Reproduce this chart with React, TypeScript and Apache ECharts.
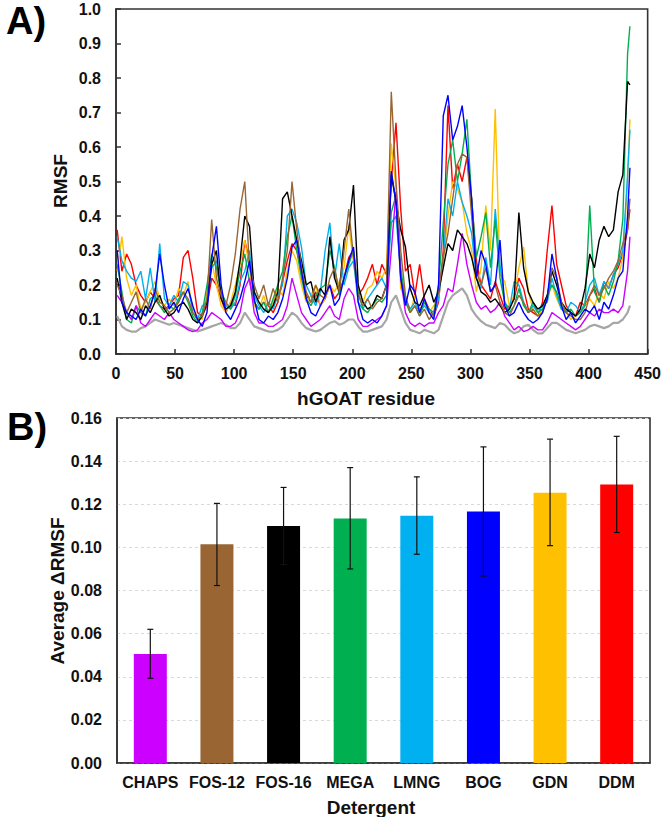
import React, { useEffect, useRef } from 'react';
import * as echarts from 'echarts';

// Panel A: residue positions (sampled) and RMSF values per detergent
const RESIDUES = [1,5,9,13,17,21,25,29,33,37,41,45,49,53,57,61,65,69,73,77,81,85,89,93,97,101,105,109,113,117,121,125,129,133,137,141,145,149,153,157,161,165,169,173,177,181,185,189,193,197,201,205,209,213,217,221,225,229,233,237,241,245,249,253,257,261,265,269,273,277,281,285,289,293,297,301,305,309,313,317,321,325,329,333,337,341,345,349,353,357,361,365,369,373,377,381,385,389,393,397,401,405,409,413,417,421,425,429,433,435];

const RMSF_REF = [
  0.11, 0.08, 0.07, 0.065, 0.065, 0.075, 0.08, 0.09, 0.10, 0.095,
  0.09, 0.085, 0.09, 0.085, 0.08, 0.075, 0.07, 0.065, 0.07, 0.075,
  0.08, 0.085, 0.09, 0.085, 0.075, 0.075, 0.09, 0.12, 0.10, 0.08,
  0.075, 0.07, 0.065, 0.065, 0.07, 0.08, 0.10, 0.12, 0.11, 0.09,
  0.075, 0.07, 0.065, 0.07, 0.08, 0.09, 0.095, 0.085, 0.09, 0.10,
  0.10, 0.08, 0.065, 0.065, 0.07, 0.075, 0.08, 0.10, 0.15, 0.17,
  0.13, 0.09, 0.07, 0.065, 0.06, 0.07, 0.065, 0.06, 0.07, 0.11,
  0.15, 0.17, 0.18, 0.19, 0.17, 0.13, 0.11, 0.095, 0.085, 0.08,
  0.075, 0.09, 0.085, 0.07, 0.06, 0.065, 0.08, 0.085, 0.07, 0.06,
  0.06, 0.075, 0.09, 0.09, 0.08, 0.07, 0.065, 0.06, 0.065, 0.07,
  0.08, 0.085, 0.08, 0.075, 0.08, 0.09, 0.09, 0.10, 0.12, 0.14,
];
const RMSF_CHAPS = [
  0.17, 0.15, 0.12, 0.10, 0.14, 0.09, 0.08, 0.10, 0.12, 0.11,
  0.10, 0.12, 0.10, 0.09, 0.08, 0.07, 0.065, 0.07, 0.09, 0.10,
  0.12, 0.11, 0.10, 0.08, 0.08, 0.09, 0.12, 0.19, 0.22, 0.12,
  0.09, 0.09, 0.08, 0.08, 0.09, 0.10, 0.14, 0.22, 0.17, 0.12,
  0.10, 0.08, 0.09, 0.10, 0.12, 0.14, 0.11, 0.10, 0.16, 0.19,
  0.17, 0.10, 0.08, 0.08, 0.09, 0.10, 0.11, 0.14, 0.30, 0.47,
  0.22, 0.12, 0.09, 0.08, 0.09, 0.08, 0.09, 0.09, 0.12, 0.14,
  0.19, 0.18, 0.26, 0.35, 0.26, 0.20, 0.15, 0.13, 0.14, 0.12,
  0.13, 0.15, 0.11, 0.09, 0.07, 0.08, 0.065, 0.07, 0.08, 0.07,
  0.07, 0.09, 0.12, 0.11, 0.10, 0.09, 0.08, 0.07, 0.08, 0.10,
  0.12, 0.11, 0.13, 0.12, 0.12, 0.13, 0.12, 0.14, 0.24, 0.34,
];
const RMSF_FOS12 = [
  0.20, 0.17, 0.12, 0.15, 0.18, 0.12, 0.16, 0.13, 0.19, 0.15,
  0.14, 0.12, 0.13, 0.15, 0.18, 0.16, 0.12, 0.10, 0.11, 0.16,
  0.39, 0.22, 0.17, 0.14, 0.20, 0.29, 0.42, 0.50, 0.25, 0.20,
  0.16, 0.20, 0.14, 0.19, 0.15, 0.22, 0.30, 0.50, 0.36, 0.25,
  0.18, 0.15, 0.20, 0.17, 0.16, 0.22, 0.25, 0.18, 0.30, 0.42,
  0.28, 0.17, 0.14, 0.16, 0.13, 0.15, 0.16, 0.20, 0.76, 0.50,
  0.30, 0.17, 0.12, 0.14, 0.11, 0.13, 0.10, 0.12, 0.18, 0.28,
  0.35, 0.45, 0.55, 0.58, 0.57, 0.40, 0.24, 0.20, 0.25, 0.18,
  0.20, 0.15, 0.12, 0.11, 0.14, 0.17, 0.15, 0.12, 0.13, 0.11,
  0.12, 0.16, 0.25, 0.22, 0.15, 0.12, 0.11, 0.10, 0.10, 0.12,
  0.17, 0.20, 0.17, 0.19, 0.22, 0.24, 0.27, 0.32, 0.36, 0.45,
];
const RMSF_FOS16 = [
  0.22, 0.15, 0.10, 0.13, 0.12, 0.10, 0.14, 0.12, 0.15, 0.17,
  0.13, 0.11, 0.12, 0.14, 0.15, 0.13, 0.10, 0.09, 0.11, 0.15,
  0.26, 0.30, 0.16, 0.13, 0.14, 0.18, 0.27, 0.40, 0.37, 0.18,
  0.15, 0.13, 0.12, 0.14, 0.18, 0.45, 0.47, 0.40, 0.33, 0.27,
  0.20, 0.21, 0.15, 0.19, 0.17, 0.34, 0.22, 0.18, 0.33, 0.36,
  0.49, 0.20, 0.15, 0.13, 0.14, 0.17, 0.16, 0.20, 0.52, 0.44,
  0.36, 0.31, 0.19, 0.15, 0.14, 0.17, 0.20, 0.15, 0.18, 0.25,
  0.32, 0.30, 0.36, 0.34, 0.32, 0.28, 0.22, 0.18, 0.17, 0.15,
  0.16, 0.14, 0.12, 0.13, 0.16, 0.41, 0.25, 0.18, 0.15, 0.13,
  0.14, 0.17, 0.24, 0.20, 0.15, 0.13, 0.12, 0.11, 0.13, 0.19,
  0.29, 0.25, 0.33, 0.37, 0.34, 0.36, 0.47, 0.52, 0.79, 0.78,
];
const RMSF_MEGA = [
  0.26, 0.18, 0.10, 0.09, 0.14, 0.12, 0.11, 0.16, 0.17, 0.14,
  0.12, 0.14, 0.13, 0.16, 0.18, 0.15, 0.11, 0.09, 0.12, 0.20,
  0.29, 0.25, 0.18, 0.15, 0.13, 0.17, 0.24, 0.29, 0.21, 0.15,
  0.13, 0.15, 0.12, 0.16, 0.20, 0.24, 0.34, 0.40, 0.30, 0.22,
  0.16, 0.14, 0.17, 0.19, 0.20, 0.30, 0.25, 0.17, 0.22, 0.26,
  0.30, 0.18, 0.13, 0.12, 0.14, 0.16, 0.15, 0.17, 0.41, 0.46,
  0.25, 0.15, 0.12, 0.14, 0.11, 0.15, 0.13, 0.12, 0.20, 0.38,
  0.55, 0.62, 0.50, 0.58, 0.68, 0.45, 0.28, 0.34, 0.41, 0.25,
  0.39, 0.22, 0.15, 0.12, 0.14, 0.19, 0.14, 0.12, 0.15, 0.12,
  0.13, 0.17, 0.20, 0.18, 0.14, 0.12, 0.13, 0.11, 0.12, 0.14,
  0.43, 0.18, 0.15, 0.20, 0.17, 0.21, 0.27, 0.39, 0.87, 0.95,
];
const RMSF_LMNG = [
  0.34, 0.27, 0.24, 0.22, 0.21, 0.24, 0.16, 0.25, 0.15, 0.32,
  0.16, 0.14, 0.17, 0.15, 0.21, 0.20, 0.12, 0.10, 0.14, 0.15,
  0.25, 0.27, 0.17, 0.14, 0.13, 0.15, 0.21, 0.24, 0.30, 0.17,
  0.14, 0.12, 0.15, 0.13, 0.17, 0.20, 0.40, 0.42, 0.38, 0.31,
  0.20, 0.17, 0.14, 0.18, 0.30, 0.38, 0.22, 0.32, 0.20, 0.25,
  0.27, 0.15, 0.13, 0.16, 0.18, 0.20, 0.22, 0.19, 0.38, 0.40,
  0.23, 0.16, 0.13, 0.15, 0.12, 0.14, 0.12, 0.11, 0.16, 0.28,
  0.45, 0.40, 0.50, 0.44, 0.40, 0.35, 0.22, 0.19, 0.28, 0.20,
  0.42, 0.26, 0.15, 0.13, 0.21, 0.20, 0.15, 0.12, 0.14, 0.12,
  0.14, 0.15, 0.22, 0.17, 0.13, 0.12, 0.15, 0.14, 0.12, 0.15,
  0.20, 0.22, 0.17, 0.21, 0.19, 0.23, 0.26, 0.30, 0.52, 0.65,
];
const RMSF_BOG = [
  0.30, 0.15, 0.12, 0.11, 0.10, 0.13, 0.11, 0.14, 0.18, 0.29,
  0.20, 0.13, 0.15, 0.12, 0.16, 0.19, 0.14, 0.10, 0.08, 0.12,
  0.28, 0.37, 0.20, 0.12, 0.10, 0.13, 0.16, 0.21, 0.27, 0.16,
  0.10, 0.09, 0.11, 0.10, 0.12, 0.16, 0.22, 0.31, 0.33, 0.24,
  0.16, 0.12, 0.11, 0.14, 0.17, 0.20, 0.14, 0.16, 0.22, 0.27,
  0.31, 0.15, 0.10, 0.09, 0.10, 0.09, 0.11, 0.14, 0.53, 0.44,
  0.22, 0.14, 0.20, 0.18, 0.12, 0.16, 0.12, 0.10, 0.20, 0.69,
  0.75, 0.62, 0.66, 0.72, 0.60, 0.45, 0.22, 0.30, 0.26, 0.18,
  0.20, 0.33, 0.14, 0.11, 0.12, 0.15, 0.12, 0.10, 0.09, 0.10,
  0.12, 0.16, 0.29, 0.22, 0.14, 0.10, 0.12, 0.09, 0.11, 0.13,
  0.12, 0.14, 0.10, 0.15, 0.13, 0.17, 0.22, 0.24, 0.40, 0.54,
];
const RMSF_GDN = [
  0.24, 0.34, 0.22, 0.17, 0.20, 0.13, 0.15, 0.18, 0.21, 0.16,
  0.14, 0.16, 0.14, 0.19, 0.17, 0.21, 0.13, 0.11, 0.10, 0.18,
  0.27, 0.20, 0.14, 0.12, 0.15, 0.20, 0.26, 0.33, 0.25, 0.14,
  0.13, 0.17, 0.12, 0.15, 0.19, 0.17, 0.24, 0.30, 0.27, 0.20,
  0.15, 0.17, 0.20, 0.14, 0.16, 0.20, 0.18, 0.21, 0.25, 0.37,
  0.27, 0.17, 0.15, 0.19, 0.20, 0.24, 0.22, 0.25, 0.61, 0.48,
  0.19, 0.16, 0.12, 0.17, 0.13, 0.15, 0.12, 0.14, 0.16, 0.27,
  0.40, 0.50, 0.48, 0.44, 0.35, 0.30, 0.18, 0.25, 0.43, 0.30,
  0.71, 0.23, 0.21, 0.14, 0.17, 0.25, 0.31, 0.18, 0.13, 0.11,
  0.13, 0.16, 0.20, 0.16, 0.13, 0.12, 0.10, 0.11, 0.12, 0.14,
  0.16, 0.14, 0.18, 0.16, 0.21, 0.19, 0.22, 0.28, 0.50, 0.68,
];
const RMSF_DDM = [
  0.36, 0.24, 0.29, 0.26, 0.20, 0.17, 0.15, 0.18, 0.16, 0.14,
  0.13, 0.14, 0.16, 0.17, 0.28, 0.30, 0.22, 0.12, 0.11, 0.14,
  0.22, 0.20, 0.16, 0.12, 0.15, 0.14, 0.20, 0.33, 0.27, 0.15,
  0.13, 0.15, 0.14, 0.12, 0.15, 0.21, 0.27, 0.32, 0.30, 0.24,
  0.17, 0.15, 0.18, 0.14, 0.16, 0.20, 0.16, 0.18, 0.22, 0.28,
  0.30, 0.17, 0.19, 0.22, 0.26, 0.20, 0.26, 0.23, 0.50, 0.67,
  0.42, 0.24, 0.26, 0.17, 0.26, 0.16, 0.13, 0.11, 0.15, 0.30,
  0.72, 0.48, 0.55, 0.50, 0.57, 0.45, 0.27, 0.20, 0.18, 0.16,
  0.21, 0.17, 0.13, 0.14, 0.16, 0.22, 0.19, 0.13, 0.12, 0.11,
  0.15, 0.30, 0.43, 0.26, 0.20, 0.14, 0.12, 0.11, 0.15, 0.14,
  0.17, 0.19, 0.15, 0.21, 0.19, 0.23, 0.25, 0.29, 0.36, 0.42,
];

const X_TICKS = [0, 450, 50];
const Y_TICKS_A = [0, 1, 0.1];

// Panel B
const DETERGENTS = ['CHAPS', 'FOS-12', 'FOS-16', 'MEGA', 'LMNG', 'BOG', 'GDN', 'DDM'];
const AVG_DRMSF = [0.0505, 0.1014, 0.1099, 0.1134, 0.1147, 0.1166, 0.1253, 0.1292];
const ERR_LOW = [0.0393, 0.0823, 0.0920, 0.0900, 0.0968, 0.0867, 0.1008, 0.1069];
const ERR_HIGH = [0.0620, 0.1204, 0.1278, 0.1370, 0.1327, 0.1466, 0.1502, 0.1515];
const Y_TICKS_B = [0, 0.16, 0.02];

const FONT = '"Liberation Sans", Arial, Helvetica, sans-serif';
const AXIS_COLOR = '#333333';
const TEXT_COLOR = '#111111';

export default function App() {
  const ref = useRef<HTMLDivElement>(null);

  useEffect(() => {
    if (!ref.current) return;
    const chart = echarts.init(ref.current, undefined, { renderer: 'svg' });

    const lineDefs = [
      { name: 'Reference', data: RMSF_REF, color: '#a6a6a6', width: 2.2 },
      { name: 'DDM', data: RMSF_DDM, color: '#ff0000', width: 1.4 },
      { name: 'GDN', data: RMSF_GDN, color: '#ffc000', width: 1.4 },
      { name: 'LMNG', data: RMSF_LMNG, color: '#00b0f0', width: 1.4 },
      { name: 'MEGA', data: RMSF_MEGA, color: '#00b050', width: 1.4 },
      { name: 'CHAPS', data: RMSF_CHAPS, color: '#cc00ff', width: 1.4 },
      { name: 'FOS-16', data: RMSF_FOS16, color: '#000000', width: 1.4 },
      { name: 'FOS-12', data: RMSF_FOS12, color: '#996633', width: 1.4 },
      { name: 'BOG', data: RMSF_BOG, color: '#0000ff', width: 1.4 },
    ];
    const barColors = ['#cc00ff', '#996633', '#000000', '#00b050', '#00b0f0', '#0000ff', '#ffc000', '#ff0000'];

    const labelStyle = { color: TEXT_COLOR, fontFamily: FONT, fontWeight: 'bold' as const, fontSize: 16 };
    const titleStyle = { fontSize: 19, fontWeight: 'bold', fontFamily: FONT, fill: TEXT_COLOR, align: 'center', verticalAlign: 'middle' };

    const option: any = {
      animation: false,
      backgroundColor: '#ffffff',
      grid: [
        { left: 116, top: 9, right: 14, height: 345, show: true, borderColor: AXIS_COLOR, borderWidth: 1.6, backgroundColor: 'transparent' },
        { left: 117, top: 418, right: 14, height: 345, show: true, borderColor: AXIS_COLOR, borderWidth: 1.6, backgroundColor: 'transparent' },
      ],
      xAxis: [
        {
          type: 'value', gridIndex: 0, min: X_TICKS[0], max: X_TICKS[1], interval: X_TICKS[2],
          axisLine: { show: true, lineStyle: { color: AXIS_COLOR, width: 1.6 } },
          axisTick: { show: true, inside: true, length: 5, lineStyle: { color: AXIS_COLOR, width: 1.5 } },
          axisLabel: { ...labelStyle, margin: 11 },
          splitLine: { show: false },
        },
        {
          type: 'category', gridIndex: 1, data: DETERGENTS,
          axisLine: { show: true, lineStyle: { color: AXIS_COLOR, width: 1.6 } },
          axisTick: { show: false },
          axisLabel: { ...labelStyle, margin: 11, interval: 0 },
        },
      ],
      yAxis: [
        {
          type: 'value', gridIndex: 0, min: Y_TICKS_A[0], max: Y_TICKS_A[1], interval: Y_TICKS_A[2],
          axisLine: { show: true, lineStyle: { color: AXIS_COLOR, width: 1.6 } },
          axisTick: { show: true, inside: true, length: 5, lineStyle: { color: AXIS_COLOR, width: 1.5 } },
          axisLabel: { ...labelStyle, margin: 15, formatter: (v: number) => v.toFixed(1) },
          splitLine: { show: false },
        },
        {
          type: 'value', gridIndex: 1, min: Y_TICKS_B[0], max: Y_TICKS_B[1], interval: Y_TICKS_B[2],
          axisLine: { show: true, lineStyle: { color: AXIS_COLOR, width: 1.6 } },
          axisTick: { show: false },
          axisLabel: { ...labelStyle, margin: 15, formatter: (v: number) => v.toFixed(2) },
          splitLine: { show: true, lineStyle: { color: '#d9d9d9', type: [3, 3], width: 1 } },
        },
      ],
      series: [
        ...lineDefs.map((d) => ({
          name: d.name,
          type: 'line',
          xAxisIndex: 0,
          yAxisIndex: 0,
          symbol: 'none',
          data: RESIDUES.map((r, i) => [r, d.data[i]]),
          lineStyle: { color: d.color, width: d.width },
          itemStyle: { color: d.color },
          z: 2,
        })),
        {
          name: 'Average ΔRMSF',
          type: 'bar',
          xAxisIndex: 1,
          yAxisIndex: 1,
          barWidth: 33,
          data: AVG_DRMSF.map((v, i) => ({ value: v, itemStyle: { color: barColors[i] } })),
          z: 2,
        },
        {
          name: 'error',
          type: 'custom',
          xAxisIndex: 1,
          yAxisIndex: 1,
          z: 5,
          data: DETERGENTS.map((_, i) => [i, ERR_LOW[i], ERR_HIGH[i]]),
          renderItem: (params: any, api: any) => {
            const lo = api.coord([api.value(0), api.value(1)]);
            const hi = api.coord([api.value(0), api.value(2)]);
            const cap = 3;
            const style = { stroke: '#111111', lineWidth: 1.2 };
            return {
              type: 'group',
              children: [
                { type: 'line', shape: { x1: lo[0], y1: lo[1], x2: hi[0], y2: hi[1] }, style },
                { type: 'line', shape: { x1: lo[0] - cap, y1: lo[1], x2: lo[0] + cap, y2: lo[1] }, style },
                { type: 'line', shape: { x1: hi[0] - cap, y1: hi[1], x2: hi[0] + cap, y2: hi[1] }, style },
              ],
            };
          },
        },
      ],
      graphic: [
        { type: 'text', left: 6, top: 2, style: { text: 'A)', fontSize: 38, fontWeight: 'bold', fontFamily: FONT, fill: '#000' } },
        { type: 'text', left: 7, top: 408, style: { text: 'B)', fontSize: 38, fontWeight: 'bold', fontFamily: FONT, fill: '#000' } },
        { type: 'text', x: 366, y: 398, style: { text: 'hGOAT residue', ...titleStyle } },
        { type: 'text', x: 371, y: 807, style: { text: 'Detergent', ...titleStyle } },
        { type: 'text', x: 60, y: 181, rotation: Math.PI / 2, style: { text: 'RMSF', ...titleStyle } },
        { type: 'text', x: 57, y: 591, rotation: Math.PI / 2, style: { text: 'Average ΔRMSF', ...titleStyle } },
      ],
    };

    chart.setOption(option);
    return () => chart.dispose();
  }, []);

  return <div ref={ref} style={{ position: 'absolute', left: 0, top: 0, width: 664, height: 817, background: '#fff' }} />;
}
